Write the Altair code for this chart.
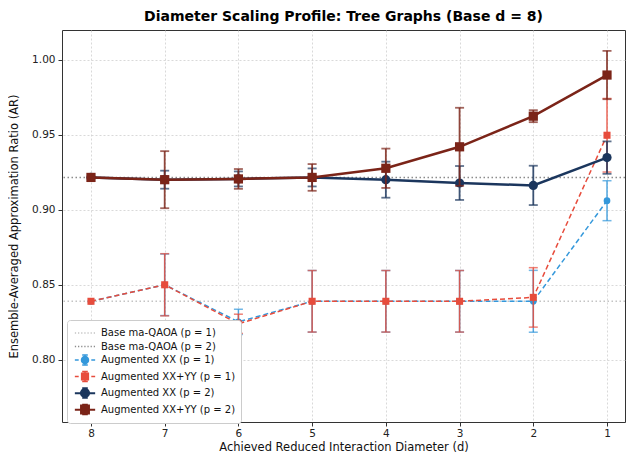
import altair as alt
import pandas as pd

# ---------------- data ----------------
d_vals = [8, 7, 6, 5, 4, 3, 2, 1]

xx_p1 = [0.839, 0.850, 0.8253, 0.839, 0.839, 0.839, 0.839, 0.906]
xx_p1_err = [0.0, 0.0205, 0.0084, 0.0205, 0.0205, 0.0205, 0.0206, 0.0133]

xxyy_p1 = [0.839, 0.850, 0.824, 0.839, 0.839, 0.839, 0.8416, 0.9496]
xxyy_p1_err = [0.0, 0.0207, 0.0064, 0.0205, 0.0205, 0.0205, 0.0198, 0.0245]

xx_p2 = [0.9215, 0.920, 0.9205, 0.9215, 0.920, 0.9178, 0.9162, 0.9347]
xx_p2_err = [0.0, 0.006, 0.005, 0.006, 0.012, 0.0113, 0.0131, 0.0108]

xxyy_p2 = [0.9215, 0.920, 0.9205, 0.9215, 0.9276, 0.9419, 0.9623, 0.9897]
xxyy_p2_err = [0.0, 0.019, 0.0066, 0.0089, 0.0131, 0.026, 0.004, 0.0161]

base_p1 = 0.839
base_p2 = 0.9215

legend_names = [
    "Base ma-QAOA (p = 1)",
    "Base ma-QAOA (p = 2)",
    "Augmented XX (p = 1)",
    "Augmented XX+YY (p = 1)",
    "Augmented XX (p = 2)",
    "Augmented XX+YY (p = 2)",
]
legend_colors = ["#c4c4c4", "#8c8c8c", "#3498db", "#e74c3c", "#1b365d", "#7b2418"]

FONT = "DejaVu Sans"

x_enc = alt.X(
    "d:Q",
    scale=alt.Scale(domain=[0.756, 8.393], reverse=True, nice=False, zero=False),
    axis=alt.Axis(values=d_vals, format="d", title="Achieved Reduced Interaction Diameter (d)"),
)
y_scale = alt.Scale(domain=[0.7586, 1.0197], nice=False, zero=False)
y_enc = alt.Y(
    "v:Q",
    scale=y_scale,
    axis=alt.Axis(values=[0.80, 0.85, 0.90, 0.95, 1.00], format=".2f",
                  title="Ensemble-Averaged Approximation Ratio (AR)"),
)


def series_layers(vals, errs, color, dash, width, shape, size, ebw):
    df = pd.DataFrame({"d": d_vals, "v": vals, "e": errs})
    df["lo"] = df["v"] - df["e"]
    df["hi"] = df["v"] + df["e"]
    base = alt.Chart(df)
    line_kw = dict(color=color, strokeWidth=width)
    if dash:
        line_kw["strokeDash"] = dash
    line = base.mark_line(**line_kw).encode(x=x_enc, y=y_enc)
    eb = base.transform_filter("datum.e > 0")
    bar = eb.mark_rule(color=color, strokeWidth=ebw, opacity=0.85).encode(
        x="d:Q", y=alt.Y("lo:Q", scale=y_scale), y2="hi:Q")
    cap_lo = eb.mark_tick(orient="horizontal", color=color, thickness=ebw, size=9, opacity=0.7).encode(
        x="d:Q", y=alt.Y("lo:Q", scale=y_scale))
    cap_hi = eb.mark_tick(orient="horizontal", color=color, thickness=ebw, size=9, opacity=0.7).encode(
        x="d:Q", y=alt.Y("hi:Q", scale=y_scale))
    pts = base.mark_point(filled=True, shape=shape, size=size, color=color, opacity=1).encode(
        x="d:Q", y=alt.Y("v:Q", scale=y_scale))
    return [line, bar, cap_lo, cap_hi, pts]


base_df1 = pd.DataFrame({"v": [base_p1]})
base_df2 = pd.DataFrame({"v": [base_p2]})
rule1 = alt.Chart(base_df1).mark_rule(color=legend_colors[0], strokeWidth=1.5, strokeDash=[1.5, 2.5]).encode(
    y=alt.Y("v:Q", scale=y_scale))
rule2 = alt.Chart(base_df2).mark_rule(color=legend_colors[1], strokeWidth=1.5, strokeDash=[1.5, 2.5]).encode(
    y=alt.Y("v:Q", scale=y_scale))

layers = [rule1, rule2]
layers += series_layers(xx_p1, xx_p1_err, legend_colors[2], [5, 3], 1.5, "circle", 45, 1.5)
layers += series_layers(xxyy_p1, xxyy_p1_err, legend_colors[3], [5, 3], 1.5, "square", 50, 1.5)
layers += series_layers(xx_p2, xx_p2_err, legend_colors[4], None, 2.5, "circle", 85, 1.8)
layers += series_layers(xxyy_p2, xxyy_p2_err, legend_colors[5], None, 2.5, "square", 85, 1.8)

# ---------------- legend (symbols only, no marks) ----------------
# unit = sqrt(symbolSize)/2 = 7px
dotted = ("M-1.45,0L-1.27,0M-1.0,0L-0.82,0M-0.55,0L-0.37,0M-0.1,0L0.08,0"
          "M0.35,0L0.53,0M0.8,0L0.98,0M1.25,0L1.43,0")
dashed = "M-1.45,0L-0.9,0M-0.55,0L0.55,0M0.9,0L1.45,0"
solid = "M-1.45,0L1.45,0M-1.45,0.08L1.45,0.08"


def ebar(h, c):
    return f"M0,-{h}L0,{h}M-{c},-{h}L{c},-{h}M-{c},{h}L{c},{h}"


def circ(r):
    return f"M{r},0A{r},{r},0,1,1,-{r},0A{r},{r},0,1,1,{r},0Z"


def sq(s):
    return f"M-{s},-{s}L{s},-{s}L{s},{s}L-{s},{s}Z"


legend_paths = [
    dotted,
    dotted,
    dashed + ebar(0.7, 0.4) + circ(0.5),
    dashed + ebar(0.7, 0.4) + sq(0.48),
    solid + ebar(0.7, 0.4) + circ(0.62),
    solid + ebar(0.7, 0.4) + sq(0.6),
]

leg = alt.Legend(title=None, orient="none", legendX=5, legendY=290)
leg_df = pd.DataFrame({"series": legend_names})
legend_layer = alt.Chart(leg_df).transform_filter("false").mark_point(filled=True).encode(
    fill=alt.Fill("series:N", scale=alt.Scale(domain=legend_names, range=legend_colors), legend=leg),
    stroke=alt.Stroke("series:N", scale=alt.Scale(domain=legend_names, range=legend_colors), legend=leg),
    shape=alt.Shape("series:N", scale=alt.Scale(domain=legend_names, range=legend_paths), legend=leg),
)
layers.append(legend_layer)

chart = alt.layer(*layers).properties(
    width=563,
    height=392,
    autosize=alt.AutoSizeParams(type="none"),
    padding={"left": 54, "top": 22, "right": 1, "bottom": 35},
    title=alt.Title(
        text="Diameter Scaling Profile: Tree Graphs (Base d = 8)",
        font=FONT, fontSize=14, fontWeight="bold", anchor="middle", frame="group", offset=6, color="#000",
    ),
).configure_view(
    stroke="#333333", strokeWidth=1
).configure_axis(
    labelFont=FONT, titleFont=FONT, labelFontSize=10.5, titleFontSize=11.5, titleFontWeight="normal",
    labelColor="#222", titleColor="#111", tickColor="#333", tickSize=4, domain=False,
    grid=True, gridColor="#cfcfcf", gridDash=[2, 2], gridWidth=0.8,
).configure_axisY(
    titlePadding=12, labelPadding=3
).configure_axisX(
    titlePadding=3, labelPadding=2
).configure_legend(
    labelFont=FONT, labelFontSize=10, labelColor="#111", symbolSize=196, symbolStrokeWidth=1.5,
    fillColor="white", strokeColor="#cccccc", cornerRadius=3, padding=5, labelOffset=8,
    symbolOffset=5, rowPadding=0.5, symbolOpacity=1,
)

chart.save("out.html", embed_options={"renderer": "svg", "actions": False})
